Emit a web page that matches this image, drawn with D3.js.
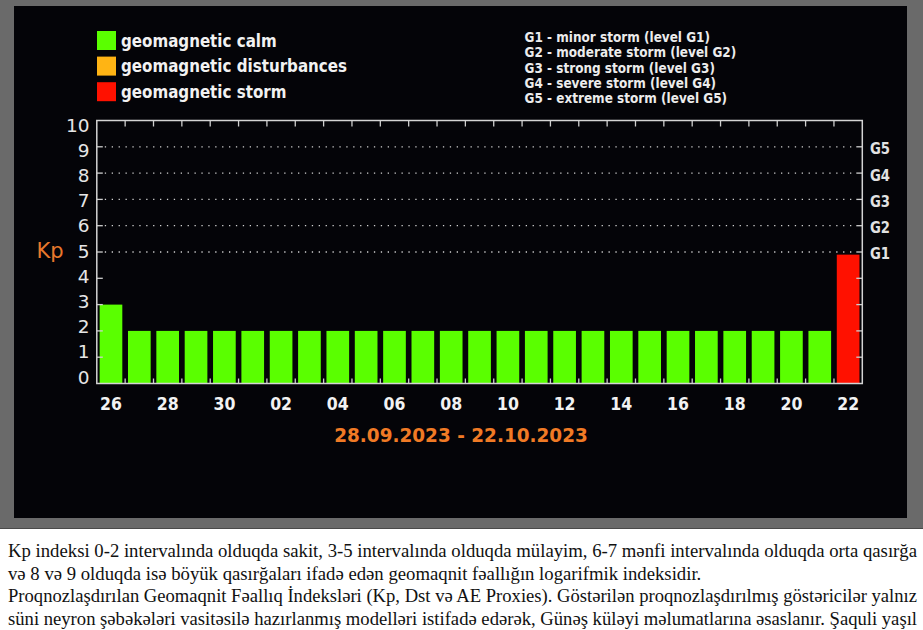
<!DOCTYPE html>
<html><head><meta charset="utf-8">
<script src="https://cdn.jsdelivr.net/npm/d3@7/dist/d3.min.js"></script>
<style>html,body{margin:0;padding:0;background:#fff;overflow:hidden}svg{display:block}</style>
</head><body>
<svg id="c" width="923" height="630"></svg>
<script>
// ---------- data ----------
const days = ["26","27","28","29","30","01","02","03","04","05","06","07","08","09","10","11","12","13","14","15","16","17","18","19","20","21","22"];
const kpValues = [3,2,2,2,2,2,2,2,2,2,2,2,2,2,2,2,2,2,2,2,2,2,2,2,2,2,4.9];
const tickLabels = ["26","28","30","02","04","06","08","10","12","14","16","18","20","22"];
const yTicks = [0,1,2,3,4,5,6,7,8,9,10];
const gridLevels = [5,6,7,8,9];
const stormLabels = ["G1","G2","G3","G4","G5"];
const legendNames = ["geomagnetic calm","geomagnetic disturbances","geomagnetic storm"];
const legendColors = ["#5aff00","#ffb414","#ff1100"];
const stormDescriptions = ["G1 - minor storm (level G1)","G2 - moderate storm (level G2)","G3 - strong storm (level G3)","G4 - severe storm (level G4)","G5 - extreme storm (level G5)"];
const dateRange = "28.09.2023 - 22.10.2023";
const yTitle = "Kp";
const paragraphLines = [
  "Kp indeksi 0-2 intervalında olduqda sakit, 3-5 intervalında olduqda mülayim, 6-7 mənfi intervalında olduqda orta qasırğa",
  "və 8 və 9 olduqda isə böyük qasırğaları ifadə edən geomaqnit fəallığın logarifmik indeksidir.",
  "Proqnozlaşdırılan Geomaqnit Fəallıq İndeksləri (Kp, Dst və AE Proxies). Göstərilən proqnozlaşdırılmış göstəricilər yalnız",
  "süni neyron şəbəkələri vasitəsilə hazırlanmış modelləri istifadə edərək, Günəş küləyi məlumatlarına əsaslanır. Şaquli yaşıl"
];
const justified = [true,false,true,true];

// ---------- helpers ----------
function compress(sel, k){
  sel.each(function(){
    const w = this.getComputedTextLength();
    d3.select(this).attr("textLength", w*k).attr("lengthAdjust","spacingAndGlyphs");
  });
}
const colorFor = v => v >= 4.67 ? legendColors[2] : (v >= 4 ? legendColors[1] : legendColors[0]);

const svg = d3.select("#c");
const FONT = "DejaVu Sans, Verdana, sans-serif";

// ---------- background panels ----------
svg.append("rect").attr("x",0).attr("y",0).attr("width",923).attr("height",529).attr("fill","#6a6a6a");
svg.append("rect").attr("x",14).attr("y",6).attr("width",893).attr("height",512).attr("fill","#040408");
svg.append("line").attr("x1",0).attr("x2",923).attr("y1",528.5).attr("y2",528.5).attr("stroke","#4a4a4a").attr("stroke-width",1);

// ---------- scales ----------
const x = d3.scaleBand().domain(days).range([96.8,862.3]).paddingInner(0.2).paddingOuter(0.1);
const y = d3.scaleLinear().domain([0,10]).range([383.5,120.5]);
const yLab = d3.scaleLinear().domain([0,10]).range([377,125]);
const x0 = x.range()[0], x1 = x.range()[1];
const boundary = d => x(d) - x.step()*x.paddingInner()/2;

// ---------- gridlines ----------
svg.append("g").selectAll("line").data(gridLevels).join("line")
  .attr("x1",x0+8).attr("x2",x1-6).attr("y1",d=>y(d)).attr("y2",d=>y(d))
  .attr("stroke","#d0d0d0").attr("stroke-width",1.3).attr("stroke-dasharray","1.3 5.6");

// ---------- bars ----------
svg.append("g").selectAll("rect").data(days).join("rect")
  .attr("x",d=>x(d)).attr("width",x.bandwidth())
  .attr("y",(d,i)=>y(kpValues[i])).attr("height",(d,i)=>y(0)-y(kpValues[i]))
  .attr("fill",(d,i)=>colorFor(kpValues[i]));

// ---------- ticks ----------
const tk = svg.append("g").attr("stroke","#cfcfcf").attr("stroke-width",1.3);
tk.selectAll(".lt").data(yTicks.slice(1,10)).join("line").attr("class","lt")
  .attr("x1",x0).attr("x2",x0+6).attr("y1",d=>y(d)).attr("y2",d=>y(d));
tk.selectAll(".rt").data(yTicks.slice(1,10)).join("line").attr("class","rt")
  .attr("x1",x1-6).attr("x2",x1).attr("y1",d=>y(d)).attr("y2",d=>y(d));
tk.selectAll(".tt").data(days.slice(1)).join("line").attr("class","tt")
  .attr("x1",d=>boundary(d)).attr("x2",d=>boundary(d)).attr("y1",y(10)).attr("y2",y(10)+6);
tk.selectAll(".bt").data(days.slice(1)).join("line").attr("class","bt")
  .attr("x1",d=>boundary(d)).attr("x2",d=>boundary(d)).attr("y1",y(0)).attr("y2",y(0)-5);

// frame
svg.append("rect").attr("x",x0).attr("y",y(10)).attr("width",x1-x0).attr("height",y(0)-y(10))
  .attr("fill","none").attr("stroke","#d4d4d4").attr("stroke-width",1.5);

// ---------- y labels ----------
svg.append("g").selectAll("text").data(yTicks).join("text")
  .attr("x",89.5).attr("y",d=>yLab(d)).attr("dy","0.36em")
  .attr("text-anchor","end").attr("font-family",FONT).attr("font-size",18.5)
  .attr("fill","#e6e6e6").text(d=>d);

svg.append("text").attr("x",36.5).attr("y",258.3).attr("font-family",FONT).attr("font-size",21)
  .attr("fill","#e8782c").text(yTitle);

// storm level labels on right
svg.append("g").selectAll("text").data(stormLabels).join("text")
  .attr("x",870).attr("y",(d,i)=>y(gridLevels[i])+2).attr("dy","0.36em")
  .attr("font-family",FONT).attr("font-weight","bold").attr("font-size",15)
  .attr("fill","#e2e2e2").text(d=>d).call(compress,0.88);

// ---------- x labels ----------
const xAxis = d3.axisBottom(x).tickValues(tickLabels).tickSize(0).tickPadding(0);
const gx = svg.append("g").attr("transform",`translate(0,${y(0)})`).call(xAxis);
gx.select(".domain").remove();
gx.selectAll("text").attr("dy",null).attr("y",26.5)
  .attr("font-family",FONT).attr("font-weight","bold").attr("font-size",17.5).attr("fill","#f2f2f2")
  .call(compress,0.9);

// date range
svg.append("text").attr("x",461).attr("y",441.5).attr("text-anchor","middle")
  .attr("font-family",FONT).attr("font-weight","bold").attr("font-size",19)
  .attr("fill","#f07a25").text(dateRange).call(compress,0.97);

// ---------- legends ----------
const lg = svg.append("g");
lg.selectAll("rect").data(legendNames).join("rect")
  .attr("x",97).attr("y",(d,i)=>31+i*25.6).attr("width",19).attr("height",19)
  .attr("fill",(d,i)=>legendColors[i]);
lg.selectAll("text").data(legendNames).join("text")
  .attr("x",121).attr("y",(d,i)=>46.7+i*25.5)
  .attr("font-family",FONT).attr("font-weight","bold").attr("font-size",18.5)
  .attr("fill","#f2f2f2").text(d=>d).call(compress,0.816);

svg.append("g").selectAll("text").data(stormDescriptions).join("text")
  .attr("x",524.5).attr("y",(d,i)=>41.7+i*15.4)
  .attr("font-family",FONT).attr("font-weight","bold").attr("font-size",13.7)
  .attr("fill","#ececec").text(d=>d).call(compress,0.882);

// ---------- paragraph ----------
const para = svg.append("g").selectAll("text").data(paragraphLines).join("text")
  .attr("x",8).attr("y",(d,i)=>557+i*22.6)
  .attr("font-family","Liberation Serif, Times New Roman, serif").attr("font-size",18)
  .attr("fill","#111").text(d=>d);
let natural0 = para.nodes()[0].getComputedTextLength();
const k = 909/natural0;
para.each(function(d,i){
  const w = this.getComputedTextLength();
  d3.select(this).attr("textLength", justified[i] ? 909 : w*k).attr("lengthAdjust","spacingAndGlyphs");
});
</script>
</body></html>
